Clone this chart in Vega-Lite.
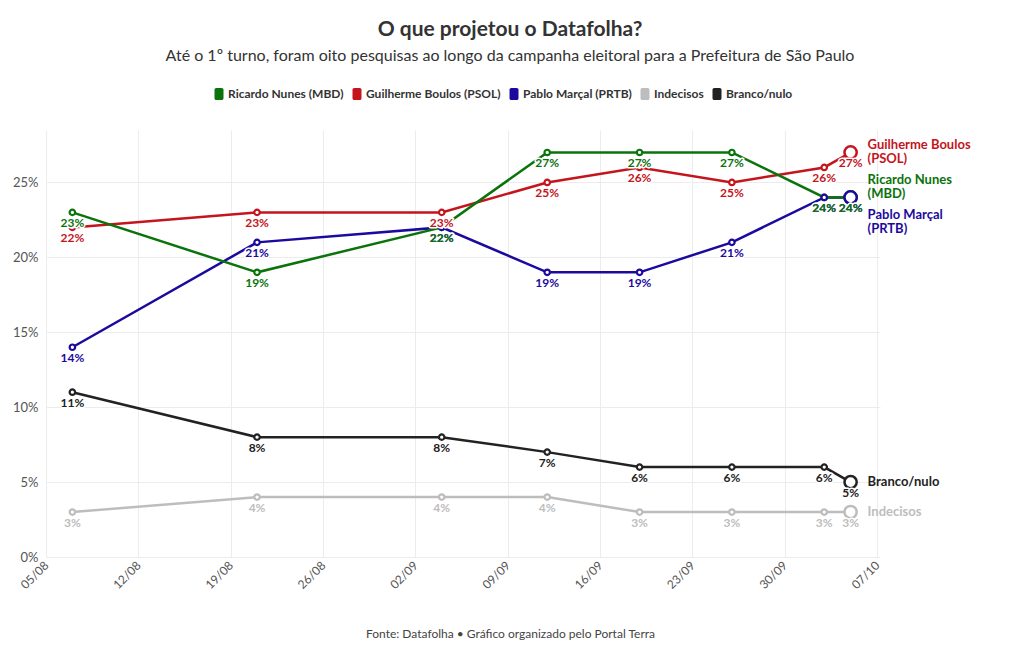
{
  "$schema": "https://vega.github.io/schema/vega-lite/v6.json",
  "width": 834,
  "height": 427,
  "autosize": {"type": "none"},
  "padding": {"left": 46, "top": 130, "right": 140, "bottom": 93},
  "background": "white",
  "title": {
    "text": "O que projetou o Datafolha?",
    "subtitle": "Até o 1º turno, foram oito pesquisas ao longo da campanha eleitoral para a Prefeitura de São Paulo",
    "anchor": "middle",
    "frame": "group",
    "dx": 47,
    "dy": 26,
    "fontSize": 21,
    "fontWeight": "bold",
    "color": "#333333",
    "subtitleFontSize": 16,
    "subtitleColor": "#333333",
    "subtitlePadding": 8,
    "offset": 50
  },
  "config": {
    "font": "Lato",
    "view": {"stroke": null},
    "axis": {"gridColor": "#ececec", "gridWidth": 1, "domain": false, "ticks": false, "labelColor": "#555555"},
    "text": {"lineBreak": "\n"}
  },
  "datasets": {
    "polls": [
      {"date": "2024-08-07T00:00:00", "series": "Pablo Marçal (PRTB)", "value": 0.14},
      {"date": "2024-08-21T00:00:00", "series": "Pablo Marçal (PRTB)", "value": 0.21},
      {"date": "2024-09-04T00:00:00", "series": "Pablo Marçal (PRTB)", "value": 0.22},
      {"date": "2024-09-12T00:00:00", "series": "Pablo Marçal (PRTB)", "value": 0.19},
      {"date": "2024-09-19T00:00:00", "series": "Pablo Marçal (PRTB)", "value": 0.19},
      {"date": "2024-09-26T00:00:00", "series": "Pablo Marçal (PRTB)", "value": 0.21},
      {"date": "2024-10-03T00:00:00", "series": "Pablo Marçal (PRTB)", "value": 0.24},
      {"date": "2024-10-05T00:00:00", "series": "Pablo Marçal (PRTB)", "value": 0.24},
      {"date": "2024-08-07T00:00:00", "series": "Guilherme Boulos (PSOL)", "value": 0.22},
      {"date": "2024-08-21T00:00:00", "series": "Guilherme Boulos (PSOL)", "value": 0.23},
      {"date": "2024-09-04T00:00:00", "series": "Guilherme Boulos (PSOL)", "value": 0.23},
      {"date": "2024-09-12T00:00:00", "series": "Guilherme Boulos (PSOL)", "value": 0.25},
      {"date": "2024-09-19T00:00:00", "series": "Guilherme Boulos (PSOL)", "value": 0.26},
      {"date": "2024-09-26T00:00:00", "series": "Guilherme Boulos (PSOL)", "value": 0.25},
      {"date": "2024-10-03T00:00:00", "series": "Guilherme Boulos (PSOL)", "value": 0.26},
      {"date": "2024-10-05T00:00:00", "series": "Guilherme Boulos (PSOL)", "value": 0.27},
      {"date": "2024-08-07T00:00:00", "series": "Indecisos", "value": 0.03},
      {"date": "2024-08-21T00:00:00", "series": "Indecisos", "value": 0.04},
      {"date": "2024-09-04T00:00:00", "series": "Indecisos", "value": 0.04},
      {"date": "2024-09-12T00:00:00", "series": "Indecisos", "value": 0.04},
      {"date": "2024-09-19T00:00:00", "series": "Indecisos", "value": 0.03},
      {"date": "2024-09-26T00:00:00", "series": "Indecisos", "value": 0.03},
      {"date": "2024-10-03T00:00:00", "series": "Indecisos", "value": 0.03},
      {"date": "2024-10-05T00:00:00", "series": "Indecisos", "value": 0.03},
      {"date": "2024-08-07T00:00:00", "series": "Branco/nulo", "value": 0.11},
      {"date": "2024-08-21T00:00:00", "series": "Branco/nulo", "value": 0.08},
      {"date": "2024-09-04T00:00:00", "series": "Branco/nulo", "value": 0.08},
      {"date": "2024-09-12T00:00:00", "series": "Branco/nulo", "value": 0.07},
      {"date": "2024-09-19T00:00:00", "series": "Branco/nulo", "value": 0.06},
      {"date": "2024-09-26T00:00:00", "series": "Branco/nulo", "value": 0.06},
      {"date": "2024-10-03T00:00:00", "series": "Branco/nulo", "value": 0.06},
      {"date": "2024-10-05T00:00:00", "series": "Branco/nulo", "value": 0.05},
      {"date": "2024-08-07T00:00:00", "series": "Ricardo Nunes (MBD)", "value": 0.23},
      {"date": "2024-08-21T00:00:00", "series": "Ricardo Nunes (MBD)", "value": 0.19},
      {"date": "2024-09-04T00:00:00", "series": "Ricardo Nunes (MBD)", "value": 0.22},
      {"date": "2024-09-12T00:00:00", "series": "Ricardo Nunes (MBD)", "value": 0.27},
      {"date": "2024-09-19T00:00:00", "series": "Ricardo Nunes (MBD)", "value": 0.27},
      {"date": "2024-09-26T00:00:00", "series": "Ricardo Nunes (MBD)", "value": 0.27},
      {"date": "2024-10-03T00:00:00", "series": "Ricardo Nunes (MBD)", "value": 0.24},
      {"date": "2024-10-05T00:00:00", "series": "Ricardo Nunes (MBD)", "value": 0.24}
    ],
    "names": [
      {"date": "2024-10-05T00:00:00", "series": "Guilherme Boulos (PSOL)", "value": 0.27, "label": "Guilherme Boulos\n(PSOL)"},
      {"date": "2024-10-05T00:00:00", "series": "Ricardo Nunes (MBD)", "value": 0.24, "label": "Ricardo Nunes\n(MBD)"},
      {"date": "2024-10-05T00:00:00", "series": "Pablo Marçal (PRTB)", "value": 0.24, "label": "Pablo Marçal\n(PRTB)"},
      {"date": "2024-10-05T00:00:00", "series": "Branco/nulo", "value": 0.05, "label": "Branco/nulo"},
      {"date": "2024-10-05T00:00:00", "series": "Indecisos", "value": 0.03, "label": "Indecisos"}
    ]
  },
  "data": {"name": "polls"},
  "encoding": {
    "x": {
      "field": "date",
      "type": "temporal",
      "scale": {"domain": [{"year": 2024, "month": 8, "date": 5}, {"year": 2024, "month": 10, "date": 7, "hours": 5, "minutes": 30}]},
      "axis": {
        "values": [
          {"year": 2024, "month": 8, "date": 5},
          {"year": 2024, "month": 8, "date": 12},
          {"year": 2024, "month": 8, "date": 19},
          {"year": 2024, "month": 8, "date": 26},
          {"year": 2024, "month": 9, "date": 2},
          {"year": 2024, "month": 9, "date": 9},
          {"year": 2024, "month": 9, "date": 16},
          {"year": 2024, "month": 9, "date": 23},
          {"year": 2024, "month": 9, "date": 30},
          {"year": 2024, "month": 10, "date": 7}
        ],
        "format": "%d/%m",
        "labelAngle": -45,
        "labelAlign": "right",
        "labelBaseline": "middle",
        "labelFontSize": 12,
        "labelPadding": 6,
        "title": "Fonte: Datafolha • Gráfico organizado pelo Portal Terra",
        "titleFontSize": 12,
        "titleFontWeight": "normal",
        "titleColor": "#444444",
        "titleX": 464,
        "titleY": 76,
        "titleBaseline": "middle",
        "titleAlign": "center"
      }
    },
    "y": {
      "field": "value",
      "type": "quantitative",
      "scale": {"domain": [0, 0.285], "nice": false},
      "axis": {"values": [0, 0.05, 0.1, 0.15, 0.2, 0.25], "format": ".0%", "labelFontSize": 13, "labelPadding": 8, "title": null}
    },
    "color": {
      "field": "series",
      "type": "nominal",
      "scale": {
        "domain": ["Ricardo Nunes (MBD)", "Guilherme Boulos (PSOL)", "Pablo Marçal (PRTB)", "Indecisos", "Branco/nulo"],
        "range": ["#0b730b", "#c4141c", "#1c0a9e", "#bdbdbd", "#222222"]
      },
      "legend": {
        "orient": "none",
        "legendX": 167,
        "legendY": -42,
        "direction": "horizontal",
        "title": null,
        "labelFontSize": 12,
        "labelFontWeight": "bold",
        "labelColor": "#333333",
        "labelOffset": 3,
        "columnPadding": 7,
        "symbolSize": 144,
        "symbolStrokeWidth": 0,
        "encode": {
          "symbols": {
            "update": {
              "shape": {"value": "M-0.45,-1 H0.45 A0.3,0.3 0 0 1 0.75,-0.7 V0.7 A0.3,0.3 0 0 1 0.45,1 H-0.45 A0.3,0.3 0 0 1 -0.75,0.7 V-0.7 A0.3,0.3 0 0 1 -0.45,-1 Z"},
              "fill": {"scale": "color", "field": "value"},
              "fillOpacity": {"value": 1},
              "strokeWidth": {"value": 0}
            }
          }
        }
      }
    }
  },
  "layer": [
    {"mark": {"type": "line", "strokeWidth": 2.5}},
    {
      "transform": [{"filter": {"field": "date", "lt": {"year": 2024, "month": 10, "date": 4}}}],
      "mark": {"type": "point", "shape": "circle", "filled": false, "fill": "white", "fillOpacity": 1, "strokeWidth": 2.2, "size": 30, "opacity": 1},
      "encoding": {"order": {"field": "series", "sort": "descending"}}
    },
    {
      "transform": [{"filter": {"field": "date", "gt": {"year": 2024, "month": 10, "date": 4}}}],
      "mark": {"type": "point", "shape": "circle", "filled": false, "fill": "white", "fillOpacity": 1, "strokeWidth": 2.5, "size": 150, "opacity": 1},
      "encoding": {"order": {"field": "series", "sort": "descending"}}
    },
    {
      "mark": {"type": "text", "dy": 11, "fontSize": 12, "fontWeight": "bold", "baseline": "middle", "stroke": "white", "strokeWidth": 3, "strokeJoin": "round"},
      "encoding": {"text": {"field": "value", "type": "quantitative", "format": ".0%"}, "color": {"value": "white"}}
    },
    {
      "mark": {"type": "text", "dy": 11, "fontSize": 12, "fontWeight": "bold", "baseline": "middle"},
      "encoding": {"text": {"field": "value", "type": "quantitative", "format": ".0%"}}
    },
    {
      "data": {"name": "names"},
      "transform": [{"filter": {"field": "series", "oneOf": ["Branco/nulo", "Indecisos"]}}],
      "mark": {"type": "text", "dx": 17, "align": "left", "baseline": "middle", "fontSize": 13, "fontWeight": "bold", "lineHeight": 14},
      "encoding": {"text": {"field": "label", "type": "nominal"}}
    },
    {
      "data": {"name": "names"},
      "transform": [{"filter": {"field": "series", "equal": "Guilherme Boulos (PSOL)"}}],
      "mark": {"type": "text", "dx": 17, "dy": -7, "align": "left", "baseline": "middle", "fontSize": 13, "fontWeight": "bold", "lineHeight": 14},
      "encoding": {"text": {"field": "label", "type": "nominal"}}
    },
    {
      "data": {"name": "names"},
      "transform": [{"filter": {"field": "series", "equal": "Ricardo Nunes (MBD)"}}],
      "mark": {"type": "text", "dx": 17, "dy": -17, "align": "left", "baseline": "middle", "fontSize": 13, "fontWeight": "bold", "lineHeight": 14},
      "encoding": {"text": {"field": "label", "type": "nominal"}}
    },
    {
      "data": {"name": "names"},
      "transform": [{"filter": {"field": "series", "equal": "Pablo Marçal (PRTB)"}}],
      "mark": {"type": "text", "dx": 17, "dy": 18, "align": "left", "baseline": "middle", "fontSize": 13, "fontWeight": "bold", "lineHeight": 14},
      "encoding": {"text": {"field": "label", "type": "nominal"}}
    }
  ]
}
